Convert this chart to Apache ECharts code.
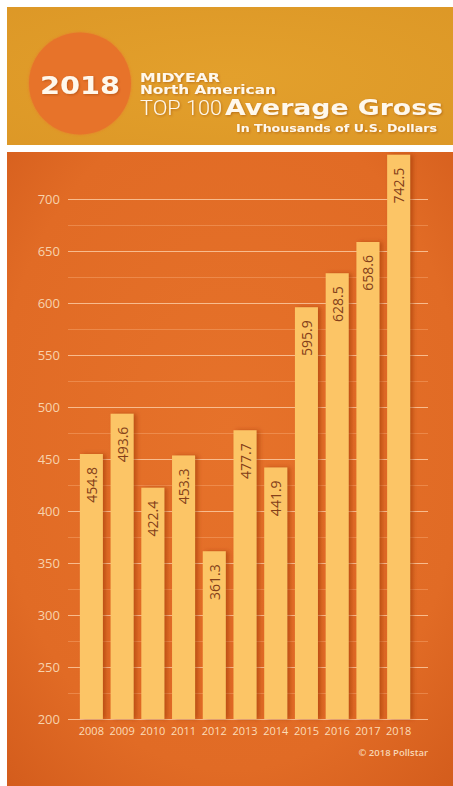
<!DOCTYPE html>
<html>
<head>
<meta charset="utf-8">
<script src="https://cdn.jsdelivr.net/npm/echarts@6/dist/echarts.min.js"></script>
<style>
html,body{margin:0;padding:0;background:#ffffff;}
#chart{width:453px;height:786px;}
</style>
</head>
<body>
<div id="chart"></div>
<script>
// ---- data ----
const years = ['2008','2009','2010','2011','2012','2013','2014','2015','2016','2017','2018'];
const averageGross = [454.8, 493.6, 422.4, 453.3, 361.3, 477.7, 441.9, 595.9, 628.5, 658.6, 742.5];
const yTickLabels = [200, 250, 300, 350, 400, 450, 500, 550, 600, 650, 700];
const badgeText = '2018';
const titleLines = ['MIDYEAR', 'North American', 'TOP 100', 'Average Gross', 'In Thousands of U.S. Dollars'];
const creditText = '\u00A9 2018 Pollstar';

// ---- layout / styles ----
const Y_MIN = 200, Y_MAX = 750, Y_STEP = 25;
const GRID_TOP = 147, GRID_BOTTOM = 67;

const mctx = document.createElement('canvas').getContext('2d');
function measure(text, font) { mctx.font = font; return mctx.measureText(text).width; }

function headerText(text, x, cy, weight, size, family, targetW, align) {
  const font = weight + ' ' + size + 'px ' + family;
  const w = measure(text, font);
  const sx = targetW / w;
  return {
    type: 'text', x: x, y: cy, scaleX: sx, scaleY: 1, z: 5,
    style: {
      text: text, x: 0, y: 0,
      fontFamily: family.replace(/"/g, ''), fontSize: size, fontWeight: weight,
      fill: '#FFF8EC', align: align || 'left', verticalAlign: 'middle',
      textShadowColor: 'rgba(140,60,0,0.45)', textShadowBlur: 2, textShadowOffsetX: 1, textShadowOffsetY: 1
    }
  };
}

const heavy = '"DejaVu Sans"';
const graphics = [
  { type: 'rect', z: -10, shape: { x: 7, y: 7, width: 446, height: 138 },
    style: { fill: { type: 'radial', x: 0.5, y: 0.5, r: 0.8,
      colorStops: [{ offset: 0, color: '#E3A02C' }, { offset: 1, color: '#DC9726' }] } } },
  { type: 'rect', z: -10, shape: { x: 7, y: 152, width: 446, height: 634 },
    style: { fill: { type: 'radial', x: 0.5, y: 0.45, r: 0.75,
      colorStops: [{ offset: 0, color: '#E6722A' }, { offset: 0.7, color: '#E16B25' }, { offset: 1, color: '#D35C1C' }] } } },
  { type: 'circle', z: -5, shape: { cx: 80, cy: 83.5, r: 51 },
    style: { fill: '#E7732B', shadowColor: 'rgba(231,115,43,0.8)', shadowBlur: 3 } },
  headerText(badgeText, 80, 85, 'bold', 25, heavy, 80, 'center'),
  headerText(titleLines[0], 140, 77.5, 'bold', 12.5, heavy, 80),
  headerText(titleLines[1], 140, 90, 'bold', 12.5, heavy, 136),
  headerText(titleLines[2], 140, 108, '300', 21, 'Roboto', 82),
  headerText(titleLines[3], 225, 108, 'bold', 20.5, heavy, 218),
  headerText(titleLines[4], 236, 128.5, 'bold', 10.5, heavy, 201),
  { type: 'text', z: 5, x: 428, y: 752,
    style: { text: creditText, fontFamily: 'Open Sans', fontSize: 9.5, fontWeight: 600,
      fill: '#F8D6B4', align: 'right', verticalAlign: 'middle' } }
];

const splitColors = [];
for (let v = Y_MIN; v <= Y_MAX; v += Y_STEP) {
  if (v > 700) splitColors.push('rgba(0,0,0,0)');
  else if (v % 50 === 0) splitColors.push('rgba(255,214,176,0.75)');
  else splitColors.push('rgba(255,190,140,0.35)');
}

const chart = echarts.init(document.getElementById('chart'), null, { renderer: 'svg' });
chart.setOption({
  animation: false,
  backgroundColor: '#ffffff',
  graphic: graphics,
  grid: [
    { left: 68, right: 25, top: GRID_TOP, bottom: GRID_BOTTOM },
    { left: 76, right: 39, top: GRID_TOP, bottom: GRID_BOTTOM }
  ],
  xAxis: [
    { gridIndex: 0, type: 'value', show: false },
    { gridIndex: 1, type: 'category', data: years,
      axisLine: { show: false }, axisTick: { show: false },
      axisLabel: { interval: 0, color: '#FBDCB8', fontSize: 11, fontFamily: 'Open Sans', margin: 6 } }
  ],
  yAxis: [
    { gridIndex: 0, type: 'value', min: Y_MIN, max: Y_MAX, interval: Y_STEP,
      axisLine: { show: false }, axisTick: { show: false },
      axisLabel: { formatter: v => yTickLabels.includes(v) ? String(v) : '',
        color: '#F7D2AC', fontSize: 13, fontFamily: 'Open Sans', margin: 8 },
      splitLine: { show: true, lineStyle: { color: splitColors, width: 1 } } },
    { gridIndex: 1, type: 'value', min: Y_MIN, max: Y_MAX, interval: Y_STEP, show: false,
      splitLine: { show: false } }
  ],
  series: [{
    type: 'bar', xAxisIndex: 1, yAxisIndex: 1, data: averageGross, barWidth: 23,
    itemStyle: { color: '#FCC566', shadowColor: 'rgba(150,50,0,0.5)', shadowBlur: 4, shadowOffsetX: 3 },
    label: { show: true, position: 'insideTop', rotate: 90, align: 'right', verticalAlign: 'middle',
      distance: 13, formatter: p => p.value.toFixed(1),
      color: '#84401A', fontSize: 14, fontFamily: 'Open Sans' }
  }]
});
</script>
</body>
</html>
